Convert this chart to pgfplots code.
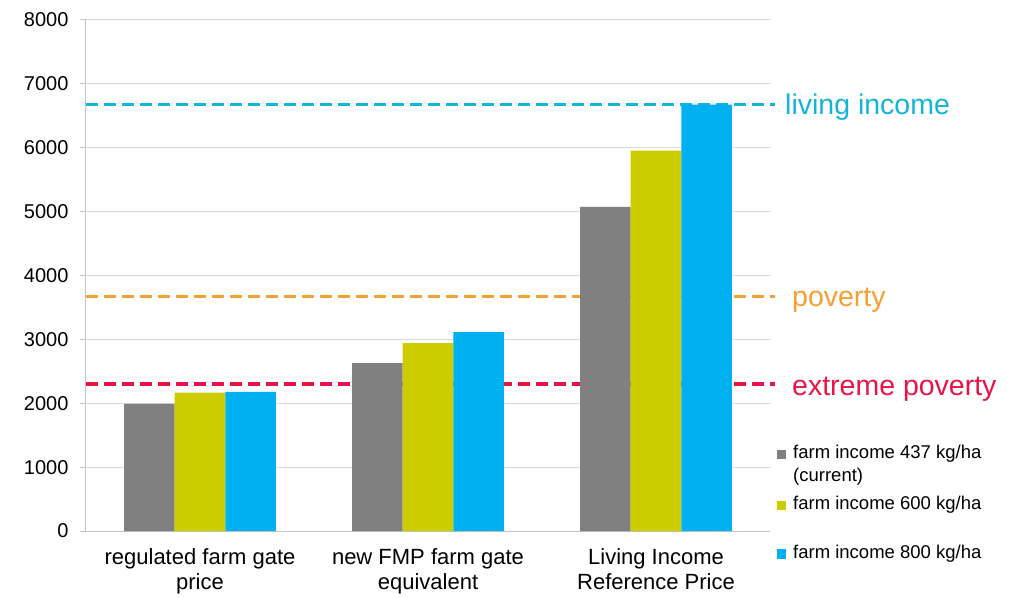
\documentclass[border=0pt]{standalone}
\usepackage{pgfplots}
\pgfplotsset{compat=1.18}
\usepackage{fontspec}
\setmainfont{Liberation Sans}

\definecolor{barGray}{RGB}{128,128,128}
\definecolor{barYellow}{RGB}{204,204,0}
\definecolor{barCyan}{RGB}{0,176,240}
\definecolor{lineCyan}{RGB}{20,180,215}
\definecolor{lineOrange}{RGB}{245,160,50}
\definecolor{lineRed}{RGB}{232,20,72}
\definecolor{gridGray}{RGB}{217,217,217}
\definecolor{axisGray}{RGB}{195,195,195}

\begin{document}
\begin{tikzpicture}
\useasboundingbox (-86bp,-67bp) rectangle (935bp,531bp);
\begin{axis}[
    at={(0,0)}, anchor=south west,
    scale only axis, width=684bp, height=511bp,
    clip=false,
    xmin=-0.5, xmax=2.5, ymin=0, ymax=8000,
    axis x line*=bottom, axis y line*=left,
    axis line style={axisGray, line width=1bp},
    ytick={0,1000,...,8000},
    ymajorgrids, grid style={gridGray, line width=1bp},
    ytick style={axisGray, line width=1bp},
    major tick length=6bp,
    tick align=outside,
    /pgf/number format/1000 sep={},
    /pgf/number format/assume math mode=true,
    yticklabel style={font=\fontsize{20bp}{24bp}\selectfont, xshift=-8bp},
    xtick={0,1,2},
    xtick style={draw=none},
    xticklabels={regulated farm gate\\price, new FMP farm gate\\equivalent, Living Income\\Reference Price},
    xticklabel style={font=\fontsize{22bp}{25.5bp}\selectfont, align=center, yshift=-8bp},
    extra x ticks={-0.5,0.5,1.5,2.5},
    extra x tick labels={},
    extra x tick style={xtick style={axisGray, line width=1bp}, grid=none},
    legend style={at={(1,0.172)}, anchor=north west, xshift=7bp,
        draw=none, fill=none, inner sep=0pt, row sep=9bp, column sep=5bp,
        font=\fontsize{18.5bp}{23bp}\selectfont,
        cells={anchor=base west, inner sep=0pt}},
]
% reference lines
\addplot[forget plot, lineCyan, line width=3.5bp, dash pattern=on 12bp off 6bp] coordinates {(-0.5,6675) (2.52,6675)};
\addplot[forget plot, lineOrange, line width=3.5bp, dash pattern=on 12bp off 6bp] coordinates {(-0.5,3672) (2.52,3672)};
\addplot[forget plot, lineRed, line width=3.5bp, dash pattern=on 12bp off 6bp] coordinates {(-0.5,2304) (2.52,2304)};

% bars
\addplot[ybar, bar width=0.222, bar shift=-0.222, fill=barGray, draw=none,
    legend image code/.code={\fill[barGray] (0bp,22.5bp) rectangle (9bp,32bp);}]
    coordinates {(0,1990) (1,2628) (2,5074)};
\addlegendentry[align=left]{farm income 437 kg/ha\\(current)}
\addplot[ybar, bar width=0.222, bar shift=0, fill=barYellow, draw=none,
    legend image code/.code={\fill[barYellow] (0bp,-0.5bp) rectangle (9bp,9bp);}]
    coordinates {(0,2168) (1,2942) (2,5956)};
\addlegendentry{farm income 600 kg/ha}
\addplot[ybar, bar width=0.222, bar shift=0.222, fill=barCyan, draw=none,
    legend image code/.code={\fill[barCyan] (0bp,-0.5bp) rectangle (9bp,9bp);}]
    coordinates {(0,2179) (1,3114) (2,6677)};
\addlegendentry{\rule{0pt}{34bp}farm income 800 kg/ha}

% labels of the reference lines
\node[anchor=west, inner sep=0pt, text=lineCyan, font=\fontsize{28.5bp}{32bp}\selectfont, xshift=15bp, yshift=-3bp] at (axis cs:2.5,6675) {living income};
\node[anchor=west, inner sep=0pt, text=lineOrange, font=\fontsize{28.5bp}{32bp}\selectfont, xshift=22bp, yshift=-4bp] at (axis cs:2.5,3672) {poverty};
\node[anchor=west, inner sep=0pt, text=lineRed, font=\fontsize{28.5bp}{32bp}\selectfont, xshift=22bp, yshift=-5bp] at (axis cs:2.5,2304) {extreme poverty};
\end{axis}
\end{tikzpicture}
\end{document}
